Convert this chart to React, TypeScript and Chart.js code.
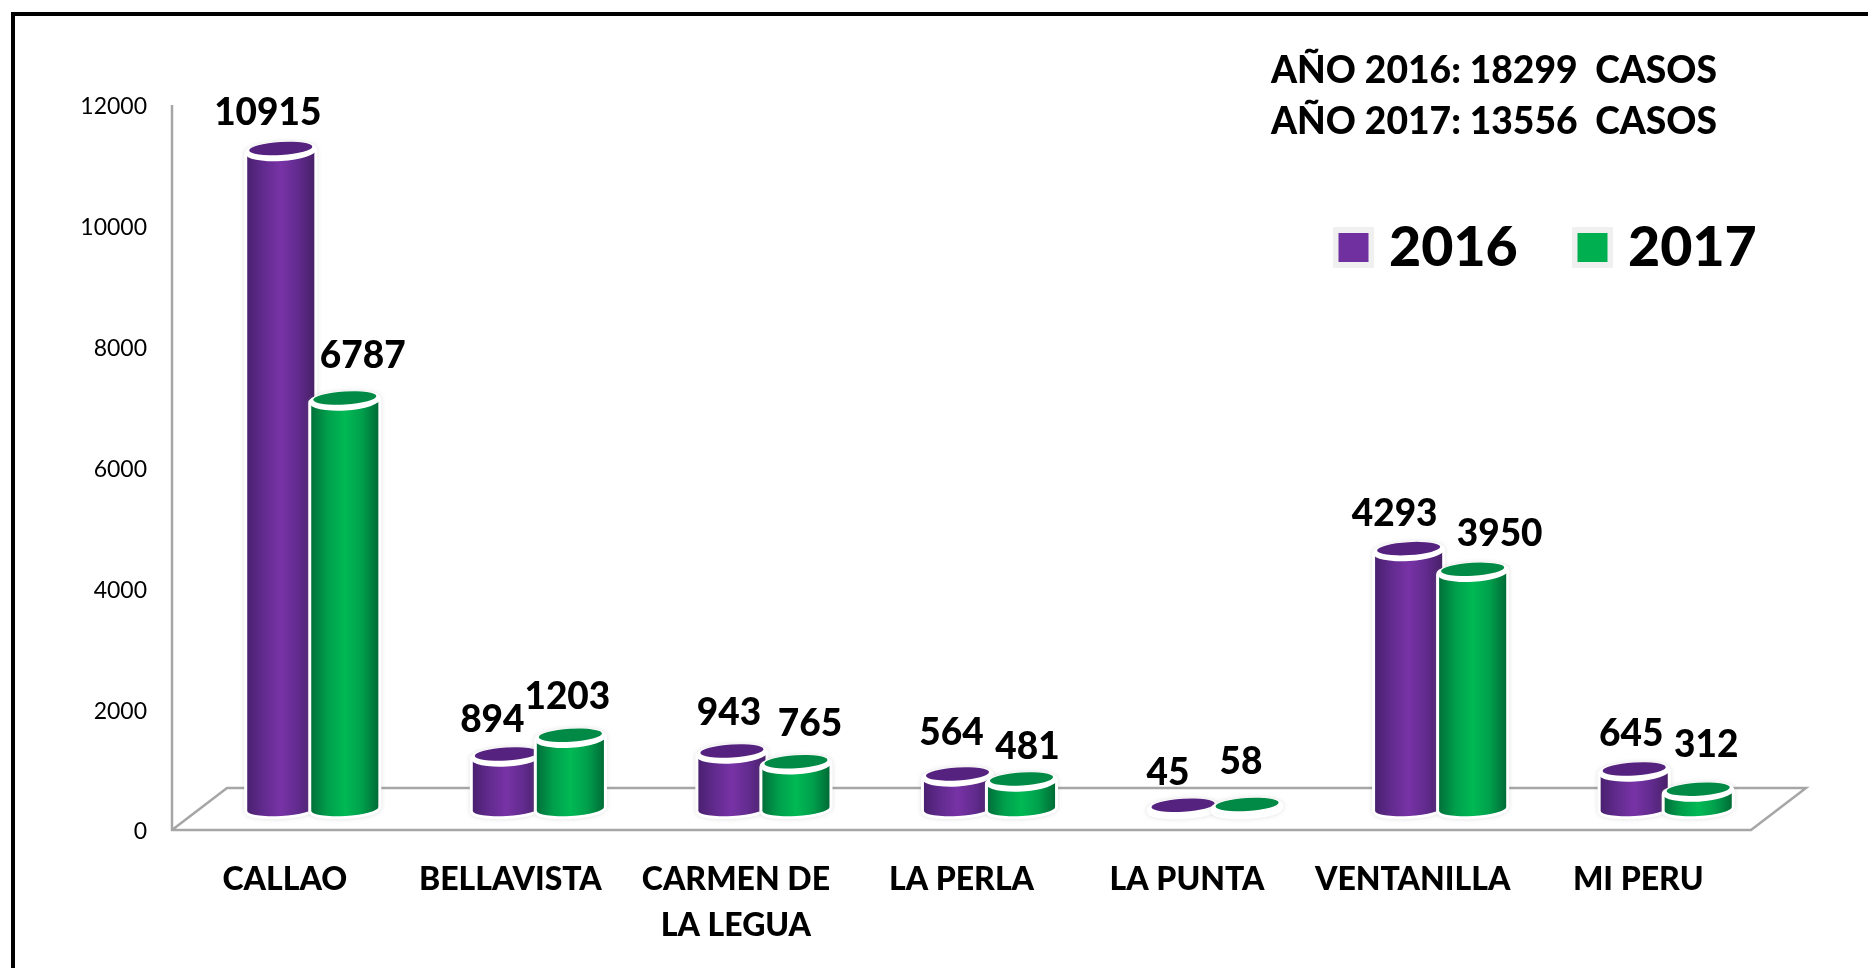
import React, { useEffect, useRef } from "react";
import { Chart, registerables } from "chart.js";

Chart.register(...registerables);

const categories = [
  "CALLAO",
  "BELLAVISTA",
  ["CARMEN DE", "LA LEGUA"],
  "LA PERLA",
  "LA PUNTA",
  "VENTANILLA",
  "MI PERU",
];
const values2016 = [10915, 894, 943, 564, 45, 4293, 645];
const values2017 = [6787, 1203, 765, 481, 58, 3950, 312];
const yearTotals = ["AÑO 2016: 18299  CASOS", "AÑO 2017: 13556  CASOS"];

const labelNudge2016 = [[-13, -36], [-14, -35], [-3, -39], [-6, -42], [-15, -33], [-14, -36], [-3, -36]];
const labelNudge2017 = [[18, -43], [-3, -39], [14, -39], [6, -33], [-6, -43], [27, -36], [8, -45]];

const FONT = "Lato, sans-serif";
const DEPTH_X = 55;
const DEPTH_Y = 42;
const SHIFT_X = 28;
const SHIFT_Y = -21;
const TILT = -0.06;

const looks = [
  { side: ["#4a2070", "#622b8f", "#7833a6", "#622b8f", "#482069"], top: "#55227f", swatch: "#7030a0", nudge: labelNudge2016 },
  { side: ["#00703a", "#00a04c", "#00b954", "#00a04c", "#006b36"], top: "#008a45", swatch: "#00b050", nudge: labelNudge2017 },
];

function cylinderPath(ctx: CanvasRenderingContext2D, x: number, top: number, base: number, w: number) {
  ctx.beginPath();
  ctx.ellipse(x, base, w / 2, 7, TILT, Math.PI, 0, true);
  ctx.ellipse(x, top, w / 2, 7, TILT, 0, Math.PI, true);
  ctx.closePath();
}

const cylinderPlugin = {
  id: "cylinders",
  beforeDraw(chart: any) {
    const { ctx, width, height, chartArea: a } = chart;
    ctx.save();
    ctx.fillStyle = "#ffffff";
    ctx.fillRect(0, 0, width, height);
    // page frame
    ctx.fillStyle = "#000000";
    ctx.fillRect(11, 12, width - 11, 4);
    ctx.fillRect(11, 12, 4, height - 12);
    // 3D floor and wall
    ctx.strokeStyle = "#a6a6a6";
    ctx.lineWidth = 2.5;
    ctx.lineJoin = "miter";
    ctx.beginPath();
    ctx.moveTo(a.left, a.top);
    ctx.lineTo(a.left, a.bottom);
    ctx.lineTo(a.right, a.bottom);
    ctx.lineTo(a.right + DEPTH_X, a.bottom - DEPTH_Y);
    ctx.lineTo(a.left + DEPTH_X, a.bottom - DEPTH_Y);
    ctx.lineTo(a.left, a.bottom);
    ctx.stroke();
    ctx.restore();
  },
  beforeDatasetsDraw(chart: any) {
    chart.ctx.save();
    chart.ctx.translate(SHIFT_X, SHIFT_Y);
  },
  afterDatasetsDraw(chart: any) {
    const ctx: CanvasRenderingContext2D = chart.ctx;
    chart.data.datasets.forEach((ds: any, di: number) => {
      const look = looks[di];
      chart.getDatasetMeta(di).data.forEach((bar: any) => {
        const { x, y, base, width: w } = bar.getProps(["x", "y", "base", "width"], true);
        // halo
        ctx.save();
        ctx.shadowColor = "rgba(130,130,130,0.25)";
        ctx.shadowBlur = 4;
        cylinderPath(ctx, x, y + 2, base, w);
        ctx.strokeStyle = "#ffffff";
        ctx.lineWidth = 6;
        ctx.stroke();
        ctx.restore();
        // side
        const g = ctx.createLinearGradient(x - w / 2, 0, x + w / 2, 0);
        look.side.forEach((c, i) => g.addColorStop(i / (look.side.length - 1), c));
        cylinderPath(ctx, x, y + 2, base, w);
        ctx.fillStyle = g;
        ctx.fill();
        // rim and lid
        ctx.beginPath();
        ctx.ellipse(x, y + 2, w / 2 + 2, 9.5, TILT, 0, Math.PI * 2);
        ctx.fillStyle = "#ffffff";
        ctx.fill();
        ctx.beginPath();
        ctx.ellipse(x, y - 1, w / 2 - 2, 6.5, TILT, 0, Math.PI * 2);
        ctx.fillStyle = look.top;
        ctx.fill();
      });
    });
    ctx.restore();

    // value labels
    ctx.save();
    ctx.fillStyle = "#000000";
    ctx.font = `900 37px ${FONT}`;
    ctx.textAlign = "center";
    ctx.textBaseline = "middle";
    chart.data.datasets.forEach((ds: any, di: number) => {
      chart.getDatasetMeta(di).data.forEach((bar: any, i: number) => {
        const [dx, dy] = looks[di].nudge[i];
        ctx.fillText(String(ds.data[i]), bar.x + SHIFT_X + dx, bar.y + SHIFT_Y + dy);
      });
    });

    // totals
    ctx.textAlign = "left";
    ctx.font = `900 37.2px ${FONT}`;
    yearTotals.forEach((t, i) => ctx.fillText(t, 1271, 71 + i * 51));

    // legend
    const legendX = [1333, 1572];
    ctx.font = `900 55.5px ${FONT}`;
    chart.data.datasets.forEach((ds: any, di: number) => {
      const lx = legendX[di];
      ctx.fillStyle = "#f0f0f0";
      ctx.fillRect(lx, 227, 41, 41);
      ctx.fillStyle = looks[di].swatch;
      ctx.fillRect(lx + 5.5, 233, 30, 29);
      ctx.fillStyle = "#000000";
      ctx.fillText(ds.label, lx + 56, 248);
    });
    ctx.restore();
  },
};

export default function App() {
  const ref = useRef<HTMLCanvasElement | null>(null);
  useEffect(() => {
    document.body.style.margin = "0";
    document.body.style.background = "#ffffff";
    const chart = new Chart(ref.current as HTMLCanvasElement, {
      type: "bar",
      data: {
        labels: categories as any,
        datasets: [
          { label: "2016", data: values2016, backgroundColor: "#7030a0", borderWidth: 0, clip: false as any },
          { label: "2017", data: values2017, backgroundColor: "#00b050", borderWidth: 0, clip: false as any },
        ],
      },
      options: {
        responsive: false,
        animation: false,
        layout: { padding: { top: 105, right: 117, left: 0, bottom: 0 } },
        datasets: { bar: { categoryPercentage: 0.5676, barPercentage: 1.05 } },
        plugins: { legend: { display: false }, tooltip: { enabled: false }, title: { display: false } },
        scales: {
          x: {
            grid: { display: false, drawTicks: false },
            border: { display: false },
            afterFit: (s: any) => { s.height = 138; },
            ticks: {
              padding: 27,
              color: "#000000",
              maxRotation: 0,
              autoSkip: false,
              font: { family: FONT, size: 32, weight: "900", lineHeight: "46px" },
            },
          },
          y: {
            min: 0,
            max: 12000,
            grid: { display: false, drawTicks: false },
            border: { display: false },
            afterFit: (s: any) => { s.width = 172; },
            ticks: {
              stepSize: 2000,
              padding: 25,
              labelOffset: 2,
              color: "#000000",
              callback: (v: any) => String(v),
              font: { family: FONT, size: 23 },
            },
          },
        },
      },
      plugins: [cylinderPlugin],
    } as any);
    return () => chart.destroy();
  }, []);
  return <canvas ref={ref} width={1868} height={968} style={{ display: "block", width: 1868, height: 968 }} />;
}
